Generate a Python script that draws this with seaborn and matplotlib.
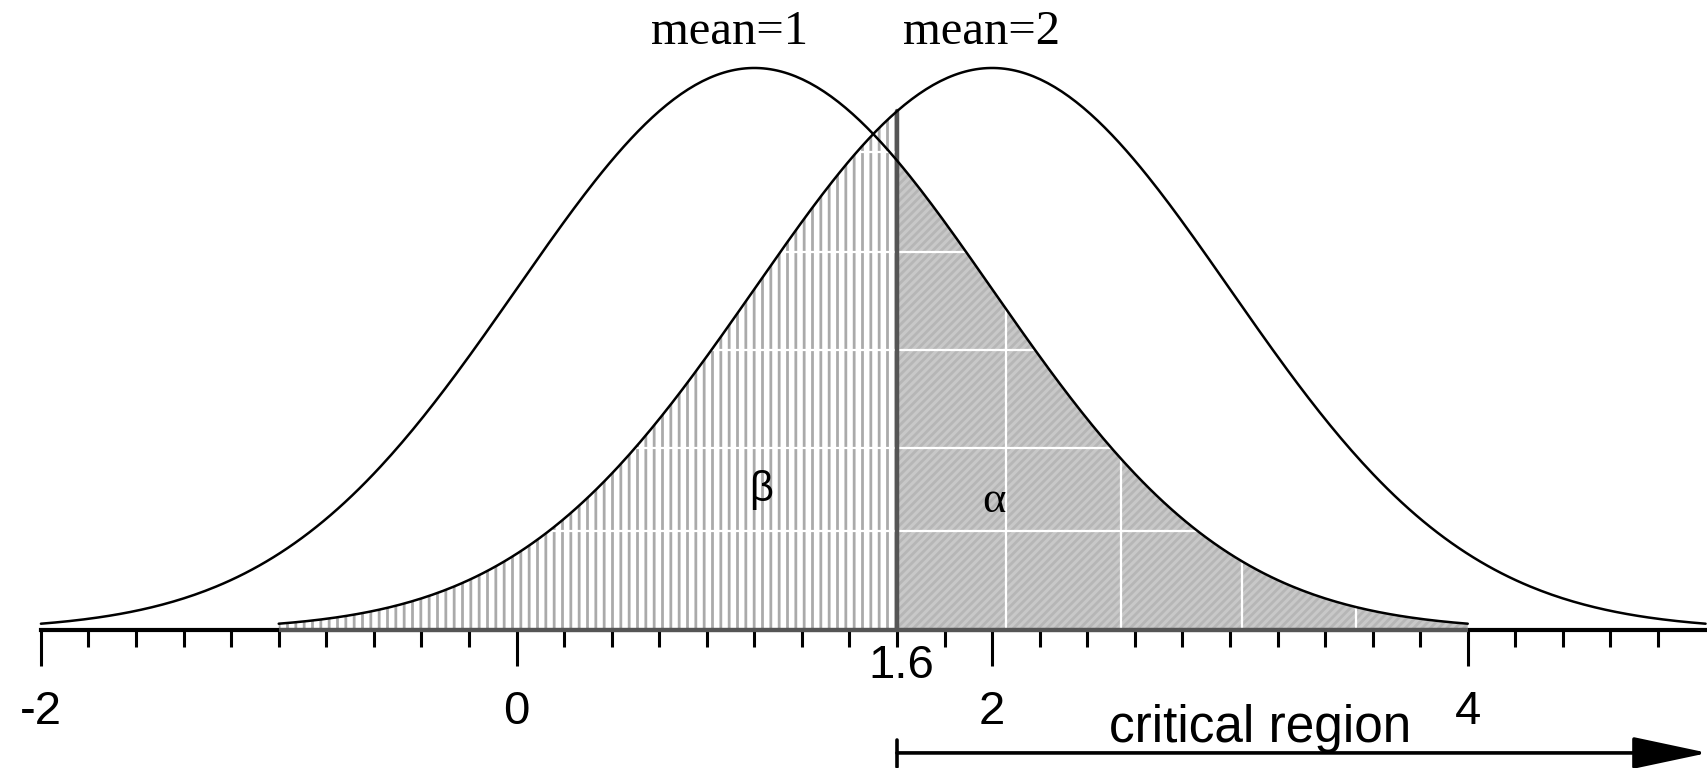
import numpy as np
import pandas as pd
import matplotlib
matplotlib.use("Agg")
import matplotlib.pyplot as plt
import seaborn as sns

# two normal curves (sd = 1) and the test cut-off
means = [1, 2]
sd = 1.0
curve_start = [-2, -1]
curve_end = [4, 5]
critical = 1.6

major_ticks = [-2, 0, 2, 4]
minor_ticks = [-1.8, -1.6, -1.4, -1.2, -1.0, -0.8, -0.6, -0.4, -0.2,
               0.2, 0.4, 0.6, 0.8, 1.0, 1.2, 1.4, 1.6, 1.8,
               2.2, 2.4, 2.6, 2.8, 3.0, 3.2, 3.4, 3.6, 3.8,
               4.2, 4.4, 4.6, 4.8]

# white lines showing through the shaded areas
grid_y = [0.339, 0.268, 0.199, 0.129, 0.070]
grid_x = [2.06, 2.54, 3.05, 3.53]


def pdf(x, m):
    return np.exp(-0.5 * ((x - m) / sd) ** 2) / (sd * np.sqrt(2 * np.pi))


frames = []
for m, a, b in zip(means, curve_start, curve_end):
    xs = np.linspace(a, b, 400)
    frames.append(pd.DataFrame({"x": xs, "density": pdf(xs, m), "curve": f"mean={m}"}))
df = pd.concat(frames, ignore_index=True)

sns.set_style("white", {"xtick.bottom": True})
plt.rcParams["font.family"] = ["Liberation Sans", "DejaVu Sans"]
plt.rcParams["text.color"] = "black"
plt.rcParams["xtick.color"] = "black"
plt.rcParams["xtick.labelcolor"] = "black"
plt.rcParams["hatch.linewidth"] = 2.0

fig = plt.figure(figsize=(17.07, 7.68), dpi=100)
ax = fig.add_axes([0, 0, 1, 1])

# beta: mean=2 curve left of the cut-off
xb = np.linspace(curve_start[1], critical, 300)
beta_fill = ax.fill_between(xb, pdf(xb, means[1]), facecolor="white",
                            edgecolor="#aaaaaa", hatch="||", lw=0, zorder=1)
# alpha: mean=1 curve right of the cut-off
xa = np.linspace(critical, curve_end[0], 300)
alpha_fill = ax.fill_between(xa, pdf(xa, means[0]), facecolor="#c8c8c8",
                             edgecolor="#b6b6b6", hatch="////", lw=0, zorder=1)

for fill in (beta_fill, alpha_fill):
    path = fill.get_paths()[0]
    for gy in grid_y:
        ln = ax.axhline(gy, color="white", lw=1.6, zorder=1.5)
        ln.set_clip_path(path, ax.transData)
for gx in grid_x:
    ln = ax.axvline(gx, color="white", lw=1.6, zorder=1.5)
    ln.set_clip_path(alpha_fill.get_paths()[0], ax.transData)

sns.lineplot(data=df, x="x", y="density", hue="curve", palette=["black", "black"],
             estimator=None, sort=False, lw=1.8, legend=False, ax=ax, zorder=3)

# cut-off line and grey base under the shaded areas
ax.plot([critical, critical], [0, pdf(critical, means[1])], color="#555555", lw=3.2, zorder=2.8)
ax.plot([curve_start[1], curve_end[0]], [0, 0], color="#555555", lw=3, zorder=4,
        solid_capstyle="butt")

ax.set_xlim(-2.172, 5.006)
ax.set_ylim(-0.098, 0.4472)

for s in ["left", "right", "top"]:
    ax.spines[s].set_visible(False)
ax.spines["bottom"].set_position(("data", 0))
ax.spines["bottom"].set_bounds(-2, 5.006)
ax.spines["bottom"].set_linewidth(3)
ax.spines["bottom"].set_color("black")
ax.set_yticks([])
ax.set_xticks(major_ticks)
ax.set_xticklabels([str(t) for t in major_ticks])
ax.set_xticks(minor_ticks, minor=True)
ax.tick_params(axis="x", which="both", bottom=True, top=False, colors="black")
ax.tick_params(axis="x", which="major", direction="out", length=26, width=2.2,
               labelsize=34, pad=17)
ax.tick_params(axis="x", which="minor", direction="out", length=12, width=2.2)
ax.set_xlabel("")
ax.set_ylabel("")

serif = ["Liberation Serif", "DejaVu Serif"]
ax.text(0.897, 0.4159, "mean=1", family=serif, fontsize=35, ha="center", va="baseline")
ax.text(1.957, 0.4159, "mean=2", family=serif, fontsize=35, ha="center", va="baseline")
ax.text(1.028, 0.0918, "β", fontsize=30, ha="center", va="baseline")
ax.text(2.007, 0.0838, "α", family=serif, fontsize=32, ha="center", va="baseline")
ax.text(1.62, -0.0341, "1.6", fontsize=34, ha="center", va="baseline")
ax.text(3.126, -0.0795, "critical region", fontsize=37, ha="center", va="baseline")

# arrow marking the critical region
ax.annotate("", xy=(5.01, -0.0873), xytext=(critical, -0.0873), annotation_clip=False,
            arrowprops=dict(arrowstyle="-|>,head_length=4.7,head_width=1.0",
                            color="black", lw=2.6, shrinkA=0, shrinkB=0))
ax.plot([critical, critical], [-0.078, -0.0975], color="black", lw=2.6, clip_on=False)

fig.savefig("out.png", dpi=100)
